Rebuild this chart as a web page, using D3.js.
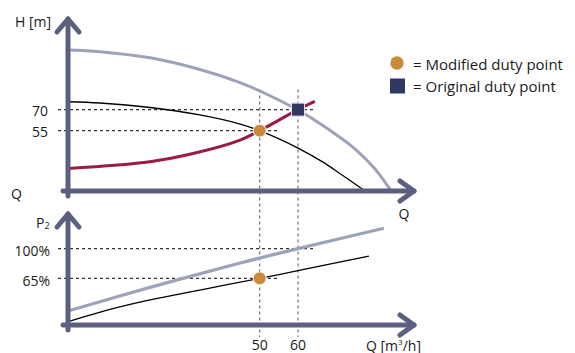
<!DOCTYPE html>
<html><head><meta charset="utf-8">
<script src="https://cdn.jsdelivr.net/npm/d3@7"></script>
<style>
html,body{margin:0;padding:0;background:#fff;}
text{font-family:"Open Sans",sans-serif;fill:#1a1a1a;}
</style></head>
<body><svg id="c" width="575" height="353"></svg>
<script>
// ---- data ----
const qTicks = [50, 60];
const hTicks = [70, 55];
const pTicks = [100, 65];
const pTickLabels = ["100%", "65%"];

// top chart: pump curves H(Q)
const maxSpeedQ = [0, 8.35, 21.4, 34.4, 44.9, 50.9, 60, 66.3, 74.9, 80.1, 84.3];
const maxSpeedH = [112.5, 111.3, 106.9, 98.6, 89.3, 82.2, 69.7, 59.0, 41.9, 27.7, 12];
const reducedQ = [0, 8.35, 21.4, 34.4, 44.9, 50, 60, 66.3, 71.5, 77.5];
const reducedH = [75.6, 74.7, 71.5, 66.2, 59.7, 55, 42.6, 32.9, 23.4, 12];
const systemQ = [0, 21.4, 32.9, 44.9, 50, 60, 64.4];
const systemH = [28.1, 32.9, 38.9, 48.3, 55, 70, 75.8];

// bottom chart: power P2(Q) in %
const powerMaxQ = [0, 21.4, 44.9, 60, 82.4];
const powerMaxP = [26.5, 54.3, 83, 100, 124];
const powerRedQ = [0, 10.96, 21.4, 34.4, 50, 60, 78.5];
const powerRedP = [13.9, 28.3, 39.5, 51.2, 65, 74, 91.3];

// duty points
const modifiedPoint = {Q: 50, H: 55, P: 65};
const originalPoint = {Q: 60, H: 70, P: 100};

const legendLabels = ["= Modified duty point", "= Original duty point"];

// ---- scales ----
const svg = d3.select("#c");
const xQ = d3.scaleLinear().domain([0, 90]).range([68, 413]);
const yH = d3.scaleLinear().domain([12, 136]).range([191, 17]);
const yP = d3.scaleLinear().domain([10, 142]).range([325, 213]);

const AX = "#5c6080", GREY = "#9ea2b8", RED = "#9a1c42", ORANGE = "#c98b3a", NAVY = "#2f3763";

const zip = (a, b) => a.map((v, i) => [v, b[i]]);
const lineH = d3.line().x(d => xQ(d[0])).y(d => yH(d[1])).curve(d3.curveCatmullRom.alpha(0.5));
const lineP = d3.line().x(d => xQ(d[0])).y(d => yP(d[1])).curve(d3.curveCatmullRom.alpha(0.5));

// ---- dashed guides ----
const g = svg.append("g");
qTicks.forEach(q => {
  g.append("line").attr("x1", xQ(q)).attr("x2", xQ(q)).attr("y1", yH(originalPoint.H) - 20).attr("y2", 337)
    .attr("stroke", "#666").attr("stroke-width", 1.1).attr("stroke-dasharray", "3,3");
});
[[originalPoint.H, originalPoint.Q], [modifiedPoint.H, modifiedPoint.Q]].forEach(([h, q]) => {
  g.append("line").attr("x1", 58).attr("x2", xQ(q) + 18).attr("y1", yH(h)).attr("y2", yH(h))
    .attr("stroke", "#333").attr("stroke-width", 1.1).attr("stroke-dasharray", "3,3");
});
[[originalPoint.P, originalPoint.Q], [modifiedPoint.P, modifiedPoint.Q]].forEach(([p, q]) => {
  g.append("line").attr("x1", 58).attr("x2", xQ(q) + 18).attr("y1", yP(p)).attr("y2", yP(p))
    .attr("stroke", "#333").attr("stroke-width", 1.1).attr("stroke-dasharray", "3,3");
});

// ---- curves ----
svg.append("path").attr("d", lineH(zip(maxSpeedQ, maxSpeedH))).attr("fill", "none").attr("stroke", GREY).attr("stroke-width", 3);
svg.append("path").attr("d", lineH(zip(reducedQ, reducedH))).attr("fill", "none").attr("stroke", "#000").attr("stroke-width", 1.3);
svg.append("path").attr("d", lineH(zip(systemQ, systemH))).attr("fill", "none").attr("stroke", RED).attr("stroke-width", 3);
svg.append("path").attr("d", lineP(zip(powerMaxQ, powerMaxP))).attr("fill", "none").attr("stroke", GREY).attr("stroke-width", 3.2);
svg.append("path").attr("d", lineP(zip(powerRedQ, powerRedP))).attr("fill", "none").attr("stroke", "#000").attr("stroke-width", 1.3);

// ---- axes ----
function arrowAxis(x0, y0, yTop, xRight) {
  const a = svg.append("g").attr("stroke", AX).attr("stroke-width", 5).attr("stroke-linecap", "round").attr("stroke-linejoin", "round").attr("fill", "none");
  a.append("line").attr("x1", x0).attr("x2", x0).attr("y1", y0 + 5).attr("y2", yTop);
  a.append("line").attr("x1", x0 - 5).attr("x2", xRight).attr("y1", y0).attr("y2", y0);
  a.append("polyline").attr("points", `${x0 - 11},${yTop + 13} ${x0},${yTop} ${x0 + 11},${yTop + 13}`);
  a.append("polyline").attr("points", `${xRight - 14},${y0 - 10} ${xRight},${y0} ${xRight - 14},${y0 + 10}`);
}
arrowAxis(xQ(0), yH(12), 19, 414);
arrowAxis(xQ(0), yP(10), 214, 414);

// ---- duty points ----
svg.append("circle").attr("cx", xQ(modifiedPoint.Q)).attr("cy", yH(modifiedPoint.H)).attr("r", 6.5)
  .attr("fill", ORANGE).attr("stroke", "#fff").attr("stroke-width", 1);
svg.append("rect").attr("x", xQ(originalPoint.Q) - 6.5).attr("y", yH(originalPoint.H) - 6.5).attr("width", 13).attr("height", 13)
  .attr("fill", NAVY).attr("stroke", "#dfe0ea").attr("stroke-width", 1);
svg.append("circle").attr("cx", xQ(modifiedPoint.Q)).attr("cy", yP(modifiedPoint.P)).attr("r", 6.5)
  .attr("fill", ORANGE).attr("stroke", "#fff").attr("stroke-width", 1);

// ---- tick labels ----
const fs = 14;
hTicks.forEach(h => svg.append("text").attr("x", 48).attr("y", yH(h) + 1).attr("text-anchor", "end")
  .attr("dominant-baseline", "central").attr("font-size", fs).text(h));
pTicks.forEach((p, i) => svg.append("text").attr("x", 50).attr("y", yP(p) + 2).attr("text-anchor", "end")
  .attr("dominant-baseline", "central").attr("font-size", fs).text(pTickLabels[i]));
qTicks.forEach(q => svg.append("text").attr("x", xQ(q)).attr("y", 344.5).attr("text-anchor", "middle")
  .attr("dominant-baseline", "central").attr("font-size", fs).text(q));

// axis titles
svg.append("text").attr("x", 15).attr("y", 21).attr("dominant-baseline", "central").attr("font-size", fs).text("H [m]");
svg.append("text").attr("x", 11).attr("y", 193).attr("dominant-baseline", "central").attr("font-size", fs).text("Q");
svg.append("text").attr("x", 404).attr("y", 213).attr("text-anchor", "middle").attr("dominant-baseline", "central").attr("font-size", fs).text("Q");
const p2 = svg.append("text").attr("x", 36).attr("y", 222).attr("dominant-baseline", "central").attr("font-size", fs);
p2.append("tspan").text("P");
p2.append("tspan").attr("font-size", 9).attr("dy", 3).text("2");
const qu = svg.append("text").attr("x", 366).attr("y", 344.5).attr("dominant-baseline", "central").attr("font-size", fs);
qu.append("tspan").text("Q [m");
qu.append("tspan").attr("font-size", 8).attr("dy", -4).text("3");
qu.append("tspan").attr("dy", 4).text("/h]");

// ---- legend ----
svg.append("circle").attr("cx", 397).attr("cy", 63).attr("r", 6.7).attr("fill", ORANGE);
svg.append("rect").attr("x", 390).attr("y", 78.5).attr("width", 15).attr("height", 15).attr("fill", NAVY);
svg.append("text").attr("x", 413).attr("y", 64).attr("dominant-baseline", "central").attr("font-size", 15).text(legendLabels[0]);
svg.append("text").attr("x", 413).attr("y", 86).attr("dominant-baseline", "central").attr("font-size", 15).text(legendLabels[1]);
</script></body></html>
